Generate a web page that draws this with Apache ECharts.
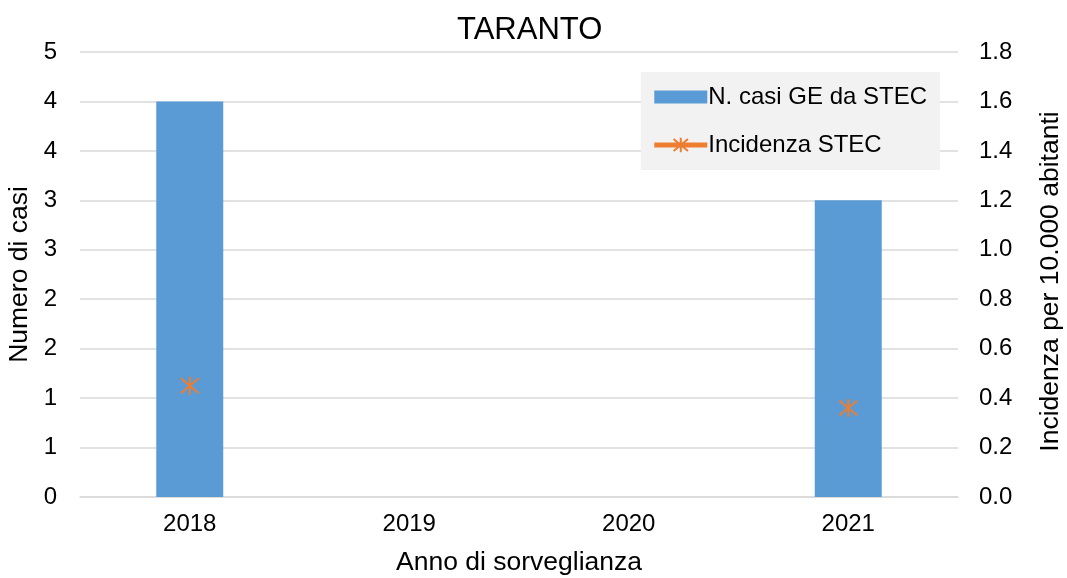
<!DOCTYPE html>
<html>
<head>
<meta charset="utf-8">
<script src="https://cdn.jsdelivr.net/npm/echarts@6/dist/echarts.min.js"></script>
<style>
  html, body { margin: 0; padding: 0; background: #fff; }
  #chart { width: 1067px; height: 578px; }
</style>
</head>
<body>
<div id="chart"></div>
<script>
// Surveillance years and values
const years = ['2018', '2019', '2020', '2021'];
const casi = [4, 0, 0, 3];                 // N. casi GE da STEC
const incidenza = [0.45, null, null, 0.36]; // per 10.000 abitanti

const FONT = '"Liberation Sans", Arial, sans-serif';
const TXT = '#000';
const ORANGE = '#ED7D31';
// Asterisk marker: X plus vertical stroke
const asterisk = 'path://M0,0L10,10M10,0L0,10M5,-1L5,11';
// Flat bar swatch for the legend (aspect kept inside the taller item box)
const barSwatch = 'path://M0,0L53,0L53,13L0,13Z';

const chart = echarts.init(document.getElementById('chart'));
chart.setOption({
  animation: false,
  textStyle: { fontFamily: FONT },
  title: {
    text: 'TARANTO',
    left: 452,
    top: 10,
    textStyle: { fontFamily: FONT, fontSize: 31, fontWeight: 'normal', color: TXT }
  },
  legend: {
    orient: 'vertical',
    right: 127,
    top: 72,
    padding: [13, 13, 13, 11],
    itemGap: 24,
    itemWidth: 53,
    itemHeight: 18,
    symbolKeepAspect: true,
    backgroundColor: '#F2F2F2',
    textStyle: { fontFamily: FONT, fontSize: 24, color: TXT, padding: [0, 0, 0, -4] },
    data: [
      { name: 'N. casi GE da STEC', icon: barSwatch },
      { name: 'Incidenza STEC', lineStyle: { width: 5, color: ORANGE } }
    ]
  },
  grid: { left: 80, right: 109, top: 52, bottom: 81, containLabel: false, outerBoundsMode: 'none' },
  xAxis: {
    type: 'category',
    data: years,
    name: 'Anno di sorveglianza',
    nameLocation: 'middle',
    nameGap: 52,
    nameTextStyle: { fontFamily: FONT, fontSize: 26.5, color: TXT },
    axisLine: { lineStyle: { color: '#D9D9D9', width: 1.5 } },
    axisTick: { show: false },
    axisLabel: { fontFamily: FONT, fontSize: 24, color: TXT, margin: 15 }
  },
  yAxis: [
    {
      type: 'value',
      min: 0,
      max: 4.5,
      interval: 0.5,
      name: 'Numero di casi',
      nameLocation: 'middle',
      nameGap: 45,
      nameTextStyle: { fontFamily: FONT, fontSize: 26.5, color: TXT },
      axisLine: { show: false },
      axisTick: { show: false },
      axisLabel: {
        fontFamily: FONT, fontSize: 24, color: TXT, margin: 23,
        formatter: v => String(Math.floor(v + 0.5))
      },
      splitLine: { lineStyle: { color: '#D9D9D9', width: 1.5 } }
    },
    {
      type: 'value',
      min: 0,
      max: 1.8,
      interval: 0.2,
      name: 'Incidenza per 10.000 abitanti',
      nameLocation: 'middle',
      nameGap: 79,
      nameRotate: 90,
      nameTextStyle: { fontFamily: FONT, fontSize: 26.5, color: TXT, padding: [0, 14, 0, 0] },
      axisLine: { show: false },
      axisTick: { show: false },
      axisLabel: {
        fontFamily: FONT, fontSize: 24, color: TXT, margin: 21,
        formatter: v => v.toFixed(1)
      },
      splitLine: { show: false }
    }
  ],
  series: [
    {
      name: 'N. casi GE da STEC',
      type: 'bar',
      data: casi,
      barWidth: 67,
      itemStyle: { color: '#5B9BD5' }
    },
    {
      name: 'Incidenza STEC',
      type: 'line',
      yAxisIndex: 1,
      data: incidenza,
      connectNulls: false,
      symbol: asterisk,
      symbolSize: 18,
      lineStyle: { color: ORANGE, width: 5 },
      itemStyle: { color: 'transparent', borderColor: ORANGE, borderWidth: 2 }
    }
  ]
});
</script>
</body>
</html>
